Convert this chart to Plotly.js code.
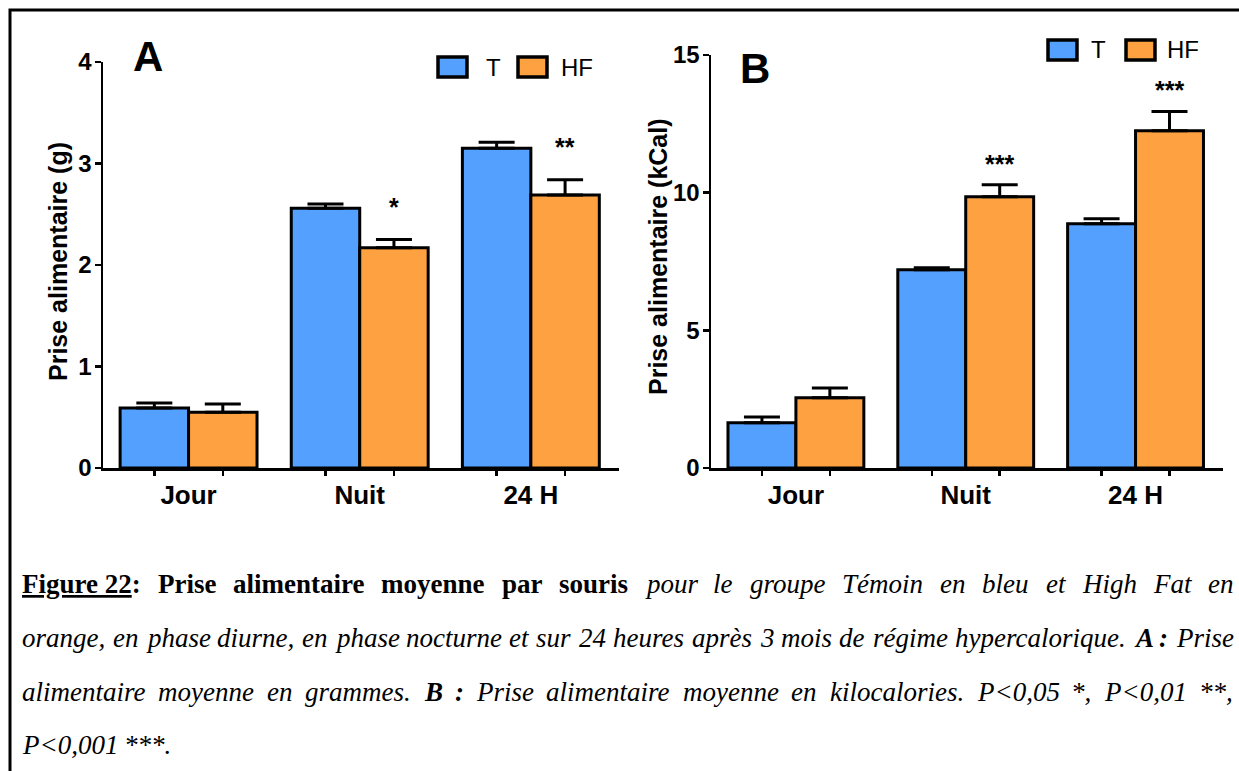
<!DOCTYPE html>
<html><head><meta charset="utf-8">
<script src="https://cdn.plot.ly/plotly-3.0.1.min.js"></script>
<style>html,body{margin:0;padding:0;background:#fff;} #chart{width:1239px;height:771px;}</style>
</head><body><div id="chart"></div>
<script>
// ---------- data ----------
const categories = ['Jour', 'Nuit', '24 H'];
const seriesNames = ['T', 'HF'];
const gramsT = [0.59, 2.56, 3.15];
const gramsTErr = [0.05, 0.04, 0.06];
const gramsHF = [0.55, 2.17, 2.69];
const gramsHFErr = [0.08, 0.08, 0.15];
const kcalT = [1.64, 7.20, 8.87];
const kcalTErr = [0.21, 0.07, 0.18];
const kcalHF = [2.55, 9.85, 12.25];
const kcalHFErr = [0.36, 0.44, 0.70];
const sigA = ['', '*', '**'];
const sigB = ['', '***', '***'];
const yTicksA = [0, 1, 2, 3, 4];
const yTicksB = [0, 5, 10, 15];
const yTitleA = 'Prise alimentaire (g)';
const yTitleB = 'Prise alimentaire (kCal)';
const panelLetters = ['A', 'B'];
const captionLines = [
  [['bu', 'Figure 22'], ['b', ': Prise alimentaire moyenne par souris '], ['i', 'pour le groupe Témoin en bleu et High Fat en']],
  [['i', 'orange, en phase diurne, en phase nocturne et sur 24 heures après 3 mois de régime hypercalorique. '], ['bi', 'A :'], ['i', ' Prise']],
  [['i', 'alimentaire moyenne en grammes. '], ['bi', 'B :'], ['i', ' Prise alimentaire moyenne en kilocalories. P<0,05 *, P<0,01 **,']],
  [['i', 'P<0,001 ***.']]
];

// ---------- style ----------
const W = 1239, H = 771;
const px = x => x / W;
const py = y => 1 - y / H;
const BLUE = 'rgb(83,160,255)';
const ORANGE = 'rgb(254,161,64)';
const colors = [BLUE, ORANGE];
const SANS = 'Liberation Sans, Arial, sans-serif';
const SERIF = 'Liberation Serif';

function barTrace(x, y, err, color, name, xa, ya) {
  return {
    type: 'bar', x: x, y: y, name: name, xaxis: xa, yaxis: ya,
    marker: {color: color, line: {color: '#000', width: 3}},
    error_y: {type: 'data', symmetric: false, array: err, arrayminus: err.map(() => 0),
              color: '#000', thickness: 3, width: 18},
    showlegend: false, hoverinfo: 'skip'
  };
}

const data = [
  barTrace(categories, gramsT, gramsTErr, BLUE, seriesNames[0], 'x', 'y'),
  barTrace(categories, gramsHF, gramsHFErr, ORANGE, seriesNames[1], 'x', 'y'),
  barTrace(categories, kcalT, kcalTErr, BLUE, seriesNames[0], 'x2', 'y2'),
  barTrace(categories, kcalHF, kcalHFErr, ORANGE, seriesNames[1], 'x2', 'y2'),
  {type: 'scatter', x: [], y: [], xaxis: 'x3', yaxis: 'y', showlegend: false},
  {type: 'scatter', x: [], y: [], xaxis: 'x4', yaxis: 'y2', showlegend: false}
];

const barOffsets = [-0.2, 0.2];
const barTicks = [];
categories.forEach((c, i) => barOffsets.forEach(o => barTicks.push(i + o)));

const rangeA = [-0.5, 2.515];
const rangeB = [-0.5, 2.515];
const domA = [px(103), px(619)];
const domB = [px(711), px(1223)];

function catAxis(dom, range, anchor) {
  return {
    domain: dom, anchor: anchor, type: 'category', range: range,
    showline: true, linewidth: 2.5, linecolor: '#000',
    ticks: 'outside', ticklen: 2, tickcolor: 'rgba(0,0,0,0)',
    tickfont: {family: SANS, size: 26, weight: 700, color: '#000'},
    showgrid: false, zeroline: false, fixedrange: true
  };
}
function tickAxis(over, range, anchor) {
  return {
    overlaying: over, anchor: anchor, type: 'linear', range: range,
    tickvals: barTicks, ticktext: barTicks.map(() => ''), showticklabels: false,
    ticks: 'outside', ticklen: 7, tickwidth: 2.5, tickcolor: '#000',
    showline: false, showgrid: false, zeroline: false, fixedrange: true
  };
}
function valAxis(dom, range, ticks, anchor) {
  return {
    domain: dom, anchor: anchor, range: range, tickvals: ticks,
    showline: true, linewidth: 2.5, linecolor: '#000',
    ticks: 'outside', ticklen: 6, tickwidth: 2.5, tickcolor: '#000',
    tickfont: {family: SANS, size: 24, weight: 700, color: '#000'},
    ticklabelstandoff: -2,
    showgrid: false, zeroline: false, fixedrange: true
  };
}

const annotations = [];
const shapes = [];

// border
shapes.push({type: 'rect', xref: 'paper', yref: 'paper', x0: px(10), x1: 1.05, y0: -0.05, y1: py(10),
  line: {color: '#000', width: 3}, fillcolor: 'rgba(0,0,0,0)'});

// y axis titles
function yTitle(text, x, y) {
  annotations.push({xref: 'paper', yref: 'paper', x: px(x), y: py(y), text: '<b>' + text + '</b>', textangle: -90,
    showarrow: false, font: {family: SANS, size: 25, color: '#000'}, xanchor: 'center', yanchor: 'middle',
    borderpad: 0, borderwidth: 0});
}
yTitle(yTitleA, 58, 262);
yTitle(yTitleB, 658, 257);

// panel letters
annotations.push({xref: 'paper', yref: 'paper', x: px(148), y: py(57), text: '<b>' + panelLetters[0] + '</b>',
  showarrow: false, font: {family: SANS, size: 42, color: '#000'}, xanchor: 'center', yanchor: 'middle'});
annotations.push({xref: 'paper', yref: 'paper', x: px(755), y: py(68), text: '<b>' + panelLetters[1] + '</b>',
  showarrow: false, font: {family: SANS, size: 42, color: '#000'}, xanchor: 'center', yanchor: 'middle'});

// significance stars
function stars(sig, vals, errs, xref, yref, shift) {
  sig.forEach((s, i) => {
    if (!s) return;
    annotations.push({xref: xref, yref: yref, x: i + barOffsets[1], y: vals[i] + errs[i], text: '<b>' + s + '</b>',
      showarrow: false, font: {family: SANS, size: 25, color: '#000'}, xanchor: 'center', yanchor: 'middle', yshift: shift});
  });
}
stars(sigA, gramsHF, gramsHFErr, 'x3', 'y', 33);
stars(sigB, kcalHF, kcalHFErr, 'x4', 'y2', 21);

// legends (boxes + names)
function legend(boxes, texts, cy, h) {
  boxes.forEach((b, k) => {
    shapes.push({type: 'rect', xref: 'paper', yref: 'paper', x0: px(b[0]), x1: px(b[1]), y0: py(cy + h / 2), y1: py(cy - h / 2),
      fillcolor: colors[k], line: {color: '#000', width: 3.5}});
    annotations.push({xref: 'paper', yref: 'paper', x: px(texts[k]), y: py(cy), text: seriesNames[k], showarrow: false,
      font: {family: SANS, size: 24, color: '#000'}, xanchor: 'left', yanchor: 'middle', borderpad: 0, borderwidth: 0});
  });
}
legend([[438, 467], [518, 547]], [486, 561], 67, 20);
legend([[1048, 1077], [1126, 1155]], [1091, 1167], 50, 20);

// caption with justified lines
const CAP_SIZE = 27;
const ctx = document.createElement('canvas').getContext('2d');
function segW(seg) {
  const st = seg[0];
  ctx.font = (st.includes('i') ? 'italic ' : '') + (st.includes('b') ? 'bold ' : '') + CAP_SIZE + 'px "' + SERIF + '"';
  return ctx.measureText(seg[1]).width;
}
function esc(t) { return t.replace(/&/g, '&amp;').replace(/</g, '&lt;').replace(/>/g, '&gt;'); }
function segHtml(seg) {
  let h = esc(seg[1]);
  const st = seg[0];
  if (st.includes('b')) h = '<b>' + h + '</b>';
  if (st.includes('i')) h = '<i>' + h + '</i>';
  if (st.includes('u')) h = '<u>' + h + '</u>';
  return h;
}
function tokenize(line) {
  const tokens = [];
  let cur = [];
  line.forEach(run => {
    const st = run[0];
    if (st.includes('u')) { cur.push([st, run[1]]); return; }
    const parts = run[1].split(' ');
    parts.forEach((p, j) => {
      if (j > 0) { if (cur.length) tokens.push(cur); cur = []; }
      if (p.length) cur.push([st, p]);
    });
  });
  if (cur.length) tokens.push(cur);
  return tokens;
}
const capLeft = 22, capRight = 1233;
const capY = [584, 638, 692, 745];
captionLines.forEach((line, li) => {
  const tokens = tokenize(line);
  const widths = tokens.map(t => t.reduce((s, g) => s + segW(g), 0));
  const total = widths.reduce((a, b) => a + b, 0);
  const justify = li < captionLines.length - 1;
  const gap = justify ? (capRight - capLeft - total) / (tokens.length - 1) : segW(['i', ' ']);
  let x = capLeft;
  tokens.forEach((t, k) => {
    annotations.push({xref: 'paper', yref: 'paper', x: px(x), y: py(capY[li]), text: t.map(segHtml).join(''),
      showarrow: false, font: {family: SERIF, size: CAP_SIZE, color: '#000'}, xanchor: 'left', yanchor: 'middle',
      borderpad: 0, borderwidth: 0});
    x += widths[k] + gap;
  });
});

const layout = {
  width: W, height: H, margin: {l: 0, r: 0, t: 0, b: 0},
  paper_bgcolor: '#fff', plot_bgcolor: 'rgba(0,0,0,0)',
  barmode: 'group', bargap: 0.2, bargroupgap: 0,
  showlegend: false,
  xaxis: catAxis(domA, rangeA, 'y'),
  yaxis: valAxis([py(468), py(62)], [0, 4], yTicksA, 'x'),
  xaxis2: catAxis(domB, rangeB, 'y2'),
  yaxis2: valAxis([py(468), py(55)], [0, 15], yTicksB, 'x2'),
  xaxis3: tickAxis('x', rangeA, 'y'),
  xaxis4: tickAxis('x2', rangeB, 'y2'),
  shapes: shapes, annotations: annotations
};

Plotly.newPlot('chart', data, layout, {displayModeBar: false, staticPlot: true});
</script>
</body></html>
